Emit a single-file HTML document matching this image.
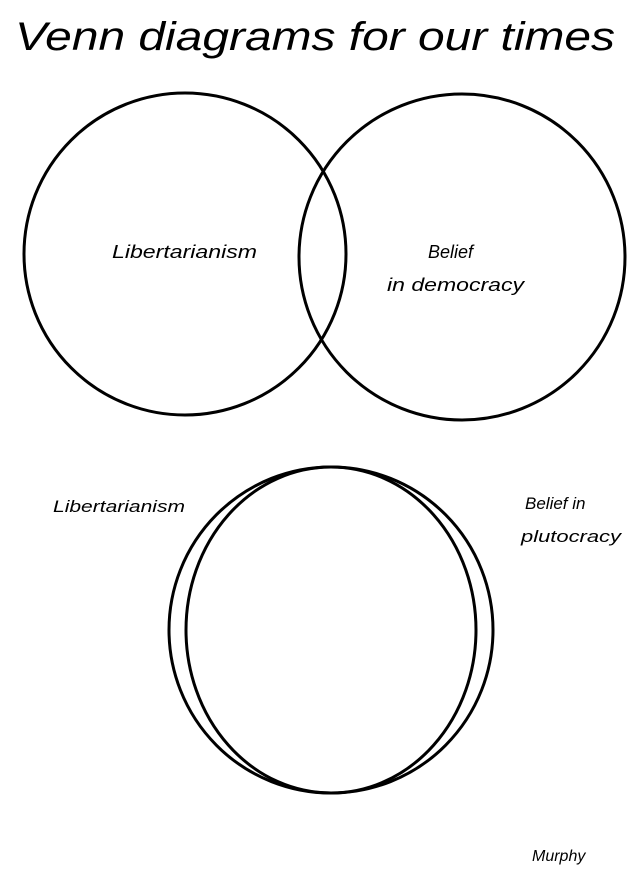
<!DOCTYPE html>
<html><head><meta charset="utf-8"><style>
html,body{margin:0;padding:0;background:#fff;}
body{width:641px;height:881px;overflow:hidden;}
svg text{font-family:"Liberation Sans",sans-serif;font-style:italic;fill:#000;}
</style></head><body>
<svg width="641" height="881" viewBox="0 0 641 881" xmlns="http://www.w3.org/2000/svg">
<text x="15" y="50" font-size="40" textLength="600" lengthAdjust="spacingAndGlyphs">Venn diagrams for our times</text>
<g fill="none" stroke="#000" stroke-width="3">
<circle cx="185" cy="254" r="161"/>
<circle cx="462" cy="257" r="163"/>
<ellipse cx="331" cy="630" rx="162" ry="163"/>
<ellipse cx="331" cy="630" rx="145" ry="163"/>
</g>
<text x="112" y="258" font-size="18" textLength="145" lengthAdjust="spacingAndGlyphs">Libertarianism</text>
<text x="428" y="258" font-size="18">Belief</text>
<text x="387" y="291" font-size="18" textLength="137" lengthAdjust="spacingAndGlyphs">in democracy</text>
<text x="53" y="512" font-size="17" textLength="132" lengthAdjust="spacingAndGlyphs">Libertarianism</text>
<text x="525" y="509" font-size="17">Belief in</text>
<text x="521" y="542" font-size="17" textLength="100" lengthAdjust="spacingAndGlyphs">plutocracy</text>
<text x="532" y="861" font-size="16">Murphy</text>
</svg>
</body></html>
